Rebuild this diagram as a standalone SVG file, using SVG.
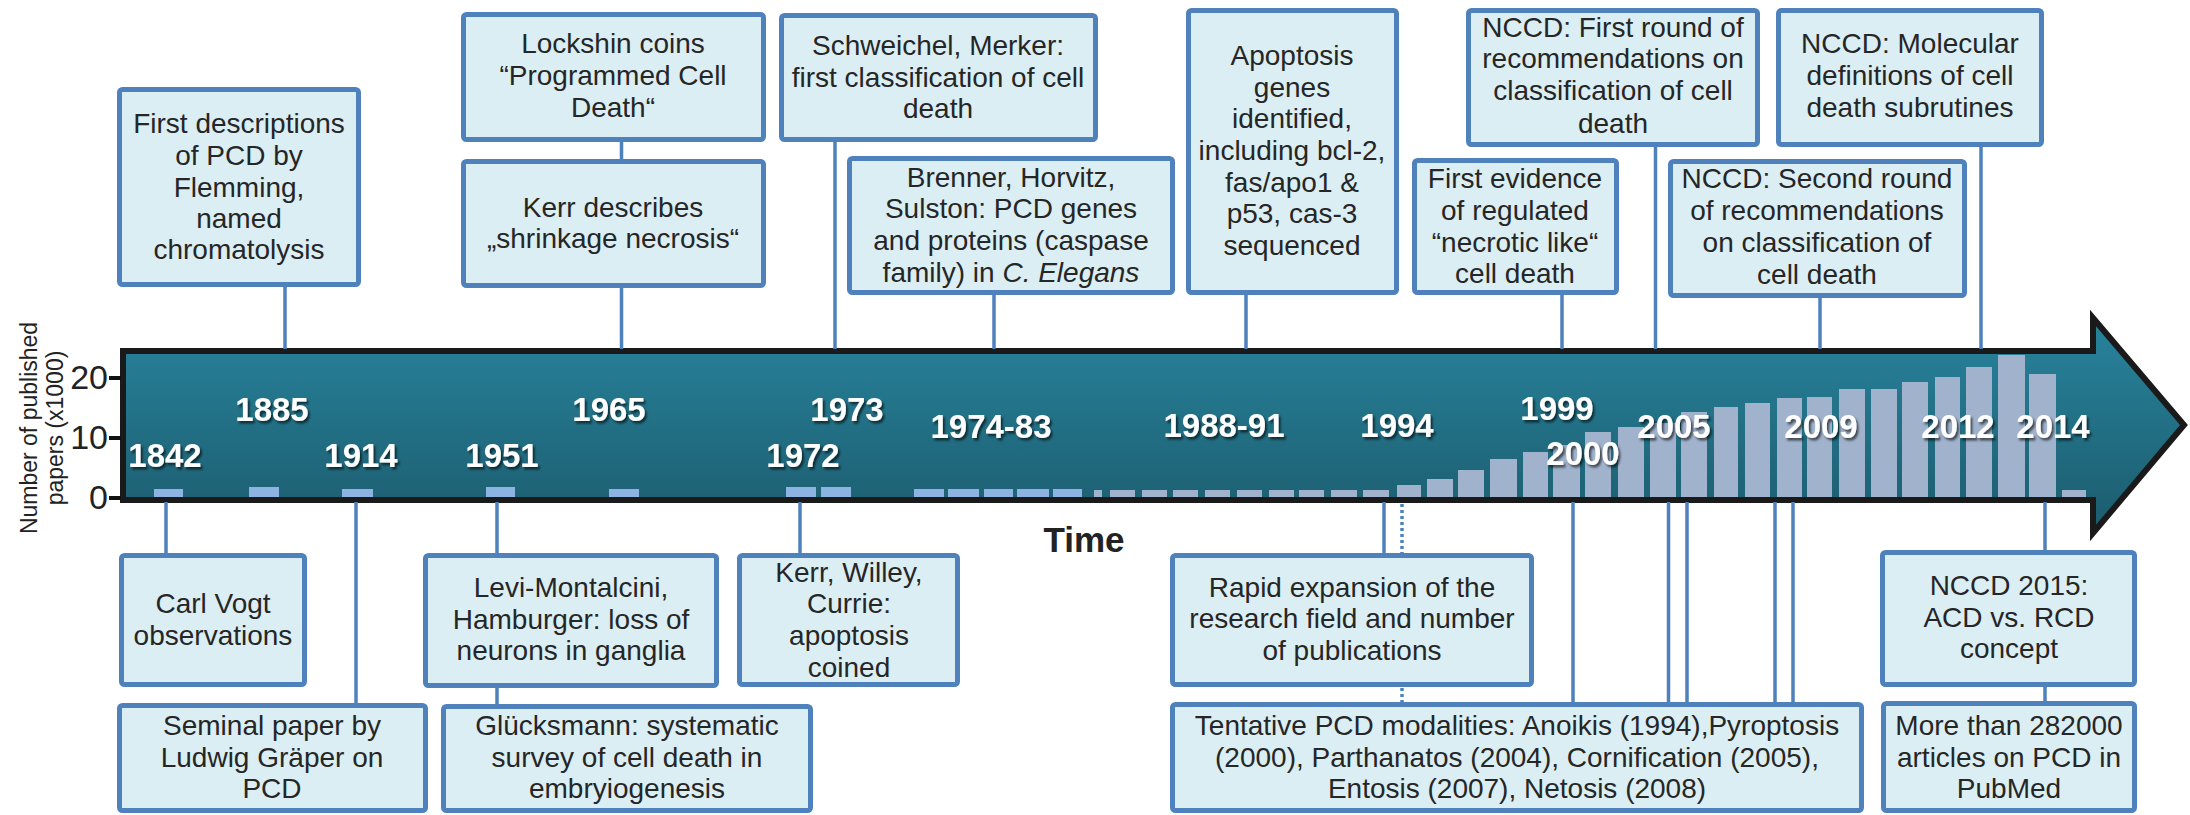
<svg xmlns="http://www.w3.org/2000/svg" width="2190" height="815" viewBox="0 0 2190 815">
<defs>
<linearGradient id="arrowFill" x1="0" y1="0" x2="0" y2="1">
<stop offset="0" stop-color="#28849d"/>
<stop offset="1" stop-color="#1c5b6d"/>
</linearGradient>
<filter id="shadow" x="-20%" y="-30%" width="140%" height="160%">
<feDropShadow dx="2" dy="2.5" stdDeviation="1.2" flood-color="#000" flood-opacity="0.6"/>
</filter>
<style>
.box{fill:#dbeef4;stroke:#4f81bd;stroke-width:5}
.t{font-family:"Liberation Sans",Arial,sans-serif;font-size:28px;fill:#262626;text-anchor:middle}
.yr{font-family:"Liberation Sans",Arial,sans-serif;font-size:33px;font-weight:bold;fill:#fff;text-anchor:middle;filter:url(#shadow)}
.con{stroke:#4f81bd;stroke-width:3.5;fill:none}
.dot{stroke:#4f81bd;stroke-width:3.5;fill:none;stroke-dasharray:3 3}
.b1{fill:#8db3e2}
.b2{fill:#a0b2cc}
.ax{font-family:"Liberation Sans",Arial,sans-serif;fill:#222}
</style>
</defs>
<rect width="2190" height="815" fill="#fff"/>

<!-- timeline arrow -->
<g id="timeline">
<path d="M123,351 H2093 V318 L2184,425 L2093,533 V500 H123 Z" fill="url(#arrowFill)" stroke="#1a1a1a" stroke-width="6"/>
</g>

<!-- bars -->
<g id="bars">
<rect class="b1" x="154" y="489" width="29" height="8"/>
<rect class="b1" x="249" y="487" width="30" height="10"/>
<rect class="b1" x="342" y="489" width="31" height="8"/>
<rect class="b1" x="486" y="487" width="29" height="10"/>
<rect class="b1" x="609" y="489" width="30" height="8"/>
<rect class="b1" x="786" y="487" width="30" height="10"/>
<rect class="b1" x="821" y="487" width="30" height="10"/>
<rect class="b1" x="914" y="489" width="30" height="8"/>
<rect class="b1" x="948" y="489" width="31" height="8"/>
<rect class="b1" x="984" y="489" width="29" height="8"/>
<rect class="b1" x="1017" y="489" width="32" height="8"/>
<rect class="b1" x="1053" y="489" width="29" height="8"/>
<rect class="b2" x="1094" y="490" width="8" height="7"/>
<rect class="b2" x="1110" y="490" width="25" height="7"/>
<rect class="b2" x="1142" y="490" width="25" height="7"/>
<rect class="b2" x="1173" y="490" width="25" height="7"/>
<rect class="b2" x="1205" y="490" width="25" height="7"/>
<rect class="b2" x="1237" y="490" width="25" height="7"/>
<rect class="b2" x="1269" y="490" width="25" height="7"/>
<rect class="b2" x="1299" y="490" width="25" height="7"/>
<rect class="b2" x="1331" y="490" width="26" height="7"/>
<rect class="b2" x="1363" y="490" width="26" height="7"/>
<rect class="b2" x="1397" y="485" width="24" height="12"/>
<rect class="b2" x="1427" y="479" width="26" height="18"/>
<rect class="b2" x="1458" y="470" width="26" height="27"/>
<rect class="b2" x="1490" y="459" width="27" height="38"/>
<rect class="b2" x="1523" y="452" width="25" height="45"/>
<rect class="b2" x="1553" y="445" width="27" height="52"/>
<rect class="b2" x="1585" y="432" width="26" height="65"/>
<rect class="b2" x="1618" y="427" width="26" height="70"/>
<rect class="b2" x="1650" y="423" width="26" height="74"/>
<rect class="b2" x="1681" y="412" width="26" height="85"/>
<rect class="b2" x="1714" y="407" width="24" height="90"/>
<rect class="b2" x="1745" y="403" width="25" height="94"/>
<rect class="b2" x="1777" y="398" width="25" height="99"/>
<rect class="b2" x="1807" y="397" width="25" height="100"/>
<rect class="b2" x="1839" y="389" width="26" height="108"/>
<rect class="b2" x="1871" y="389" width="26" height="108"/>
<rect class="b2" x="1902" y="382" width="26" height="115"/>
<rect class="b2" x="1935" y="377" width="25" height="120"/>
<rect class="b2" x="1966" y="367" width="26" height="130"/>
<rect class="b2" x="1998" y="355" width="27" height="142"/>
<rect class="b2" x="2029" y="374" width="27" height="123"/>
<rect class="b2" x="2062" y="490" width="24" height="7"/>
</g>

<!-- year labels -->
<g id="years">
<text class="yr" x="165" y="467">1842</text>
<text class="yr" x="272" y="421">1885</text>
<text class="yr" x="361" y="467">1914</text>
<text class="yr" x="502" y="467">1951</text>
<text class="yr" x="609" y="421">1965</text>
<text class="yr" x="803" y="467">1972</text>
<text class="yr" x="847" y="421">1973</text>
<text class="yr" x="991" y="438">1974-83</text>
<text class="yr" x="1224" y="437">1988-91</text>
<text class="yr" x="1397" y="437">1994</text>
<text class="yr" x="1557" y="420">1999</text>
<text class="yr" x="1583" y="465">2000</text>
<text class="yr" x="1674" y="438">2005</text>
<text class="yr" x="1821" y="438">2009</text>
<text class="yr" x="1958" y="438">2012</text>
<text class="yr" x="2053" y="438">2014</text>
</g>

<!-- y axis -->
<g id="yaxis">
<path d="M109,378 H121 M109,438 H121 M109,498 H121" stroke="#111" stroke-width="4"/>
<text class="ax" x="108" y="389" font-size="34" text-anchor="end">20</text>
<text class="ax" x="108" y="449" font-size="34" text-anchor="end">10</text>
<text class="ax" x="108" y="509" font-size="34" text-anchor="end">0</text>
<text class="ax" font-size="23" fill="#333" text-anchor="middle" transform="translate(37,428) rotate(-90)">Number of published</text>
<text class="ax" font-size="23" fill="#333" text-anchor="middle" transform="translate(63,428) rotate(-90)">papers (x1000)</text>
<text class="ax" x="1084" y="552" font-size="35" font-weight="bold" text-anchor="middle">Time</text>
</g>

<!-- connectors -->
<g id="connectors">
<path class="con" d="M285,287 V349"/>
<path class="con" d="M621.5,142 V159 M621.5,288 V349"/>
<path class="con" d="M835,142 V349"/>
<path class="con" d="M994,295 V349"/>
<path class="con" d="M1246,295 V349"/>
<path class="con" d="M1562,295 V349"/>
<path class="con" d="M1655.5,147 V349"/>
<path class="con" d="M1820,298 V349"/>
<path class="con" d="M1981,147 V349"/>
<path class="con" d="M166,502 V553"/>
<path class="con" d="M356,502 V703"/>
<path class="con" d="M497,502 V553 M497,688 V704"/>
<path class="con" d="M800,502 V553"/>
<path class="con" d="M1384,502 V553"/>
<path class="dot" d="M1402,504 V553 M1402,688 V702"/>
<path class="con" d="M1573,502 V702"/>
<path class="con" d="M1668.5,502 V702"/>
<path class="con" d="M1687,502 V702"/>
<path class="con" d="M1775,502 V702"/>
<path class="con" d="M1793,502 V702"/>
<path class="con" d="M2045,502 V550 M2045,687 V701"/>
</g>

<!-- top nodes -->
<g id="n-first-descriptions">
<rect class="box" x="119.5" y="89.5" width="239" height="195" rx="3"/>
<text class="t" x="239" y="133">First descriptions</text>
<text class="t" x="239" y="165">of PCD by</text>
<text class="t" x="239" y="197">Flemming,</text>
<text class="t" x="239" y="228">named</text>
<text class="t" x="239" y="259">chromatolysis</text>
</g>
<g id="n-lockshin">
<rect class="box" x="463.5" y="14.5" width="300" height="125" rx="3"/>
<text class="t" x="613" y="53">Lockshin coins</text>
<text class="t" x="613" y="85">“Programmed Cell</text>
<text class="t" x="613" y="117">Death“</text>
</g>
<g id="n-kerr-describes">
<rect class="box" x="463.5" y="161.5" width="300" height="124" rx="3"/>
<text class="t" x="613" y="217">Kerr describes</text>
<text class="t" x="613" y="248">„shrinkage necrosis“</text>
</g>
<g id="n-schweichel">
<rect class="box" x="781.5" y="15.5" width="314" height="124" rx="3"/>
<text class="t" x="938" y="55">Schweichel, Merker:</text>
<text class="t" x="938" y="87">first classification of cell</text>
<text class="t" x="938" y="118">death</text>
</g>
<g id="n-brenner">
<rect class="box" x="849.5" y="158.5" width="323" height="134" rx="3"/>
<text class="t" x="1011" y="187">Brenner, Horvitz,</text>
<text class="t" x="1011" y="218">Sulston: PCD genes</text>
<text class="t" x="1011" y="250">and proteins (caspase</text>
<text class="t" x="1011" y="282">family) in <tspan font-style="italic">C. Elegans</tspan></text>
</g>
<g id="n-apoptosis-genes">
<rect class="box" x="1188.5" y="10.5" width="208" height="282" rx="3"/>
<text class="t" x="1292" y="65">Apoptosis</text>
<text class="t" x="1292" y="97">genes</text>
<text class="t" x="1292" y="128">identified,</text>
<text class="t" x="1292" y="160">including bcl-2,</text>
<text class="t" x="1292" y="192">fas/apo1 &amp;</text>
<text class="t" x="1292" y="223">p53, cas-3</text>
<text class="t" x="1292" y="255">sequenced</text>
</g>
<g id="n-first-evidence">
<rect class="box" x="1414.5" y="160.5" width="202" height="132" rx="3"/>
<text class="t" x="1515" y="188">First evidence</text>
<text class="t" x="1515" y="220">of regulated</text>
<text class="t" x="1515" y="252">“necrotic like“</text>
<text class="t" x="1515" y="283">cell death</text>
</g>
<g id="n-nccd-first">
<rect class="box" x="1468.5" y="10.5" width="289" height="134" rx="3"/>
<text class="t" x="1613" y="37">NCCD: First round of</text>
<text class="t" x="1613" y="68">recommendations on</text>
<text class="t" x="1613" y="100">classification of cell</text>
<text class="t" x="1613" y="133">death</text>
</g>
<g id="n-nccd-molecular">
<rect class="box" x="1778.5" y="10.5" width="263" height="134" rx="3"/>
<text class="t" x="1910" y="53">NCCD: Molecular</text>
<text class="t" x="1910" y="85">definitions of cell</text>
<text class="t" x="1910" y="117">death subrutines</text>
</g>
<g id="n-nccd-second">
<rect class="box" x="1670.5" y="161.5" width="294" height="134" rx="3"/>
<text class="t" x="1817" y="188">NCCD: Second round</text>
<text class="t" x="1817" y="220">of recommendations</text>
<text class="t" x="1817" y="252">on classification of</text>
<text class="t" x="1817" y="284">cell death</text>
</g>

<!-- bottom nodes -->
<g id="n-carl-vogt">
<rect class="box" x="121.5" y="555.5" width="183" height="129" rx="3"/>
<text class="t" x="213" y="613">Carl Vogt</text>
<text class="t" x="213" y="645">observations</text>
</g>
<g id="n-seminal">
<rect class="box" x="119.5" y="705.5" width="306" height="105" rx="3"/>
<text class="t" x="272" y="735">Seminal paper by</text>
<text class="t" x="272" y="767">Ludwig Gräper on</text>
<text class="t" x="272" y="798">PCD</text>
</g>
<g id="n-levi-montalcini">
<rect class="box" x="425.5" y="555.5" width="291" height="130" rx="3"/>
<text class="t" x="571" y="597">Levi-Montalcini,</text>
<text class="t" x="571" y="629">Hamburger: loss of</text>
<text class="t" x="571" y="660">neurons in ganglia</text>
</g>
<g id="n-glucksmann">
<rect class="box" x="443.5" y="706.5" width="367" height="104" rx="3"/>
<text class="t" x="627" y="735">Glücksmann: systematic</text>
<text class="t" x="627" y="767">survey of cell death in</text>
<text class="t" x="627" y="798">embryiogenesis</text>
</g>
<g id="n-kerr-willey">
<rect class="box" x="739.5" y="555.5" width="218" height="129" rx="3"/>
<text class="t" x="849" y="582">Kerr, Willey,</text>
<text class="t" x="849" y="613">Currie:</text>
<text class="t" x="849" y="645">apoptosis</text>
<text class="t" x="849" y="677">coined</text>
</g>
<g id="n-rapid-expansion">
<rect class="box" x="1172.5" y="555.5" width="359" height="129" rx="3"/>
<text class="t" x="1352" y="597">Rapid expansion of the</text>
<text class="t" x="1352" y="628">research field and number</text>
<text class="t" x="1352" y="660">of publications</text>
</g>
<g id="n-tentative">
<rect class="box" x="1172.5" y="704.5" width="689" height="106" rx="3"/>
<text class="t" x="1517" y="735">Tentative PCD modalities: Anoikis (1994),Pyroptosis</text>
<text class="t" x="1517" y="767">(2000), Parthanatos (2004), Cornification (2005),</text>
<text class="t" x="1517" y="798">Entosis (2007), Netosis (2008)</text>
</g>
<g id="n-nccd-2015">
<rect class="box" x="1882.5" y="552.5" width="252" height="132" rx="3"/>
<text class="t" x="2009" y="595">NCCD 2015:</text>
<text class="t" x="2009" y="627">ACD vs. RCD</text>
<text class="t" x="2009" y="658">concept</text>
</g>
<g id="n-more-than">
<rect class="box" x="1883.5" y="703.5" width="251" height="107" rx="3"/>
<text class="t" x="2009" y="735">More than 282000</text>
<text class="t" x="2009" y="767">articles on PCD in</text>
<text class="t" x="2009" y="798">PubMed</text>
</g>
</svg>
